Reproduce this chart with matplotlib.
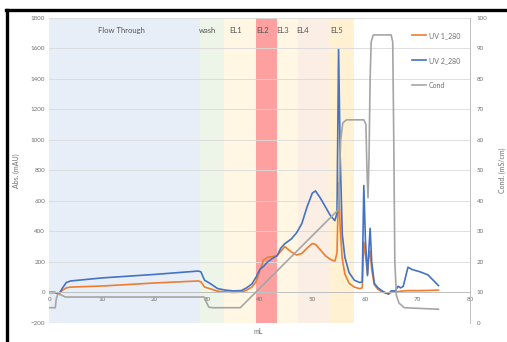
import numpy as np
import matplotlib.pyplot as plt
from matplotlib.lines import Line2D

plt.rcParams['font.family'] = ['Lato', 'DejaVu Sans']

# chromato : absorbance UV (mAU) et conductivite (mS/cm) en fonction du volume (mL)
vol_uv = [0, 1, 1.8, 2.5, 3.2, 4, 10, 20, 28.3, 28.8, 29.5, 30.5, 32, 33.5, 35, 36.5,
          37.5, 38.5, 39.3, 40, 40.7, 41.5, 42.5, 43.3, 44, 44.8, 46, 47, 48, 49, 50,
          50.6, 51.5, 52.5, 53.5, 54.3, 54.7, 55.0, 55.3, 55.7, 56.2, 57, 58, 59, 59.5,
          59.8, 60.1, 60.5, 60.8, 61.0, 61.3, 61.8, 62.5, 63.5, 64.5, 65, 65.8, 66.3,
          66.8, 67.3, 68.2, 69, 70.5, 72, 73, 74]
uv1 = [0, 0, -8, 15, 30, 35, 42, 62, 75, 70, 35, 25, 8, 3, 0, 2,
       15, 35, 70, 140, 210, 230, 235, 240, 270, 300, 265, 245, 255, 290, 320,
       315, 280, 240, 215, 205, 260, 715, 420, 220, 120, 60, 35, 25, 30,
       330, 250, 120, 260, 270, 150, 50, 20, 0, -10, 0, 5, 5,
       8, 10, 12, 12, 12, 13, 14, 15]
uv2 = [0, 0, -10, 30, 65, 75, 95, 118, 140, 135, 80, 60, 25, 15, 10, 12,
       30, 55, 100, 150, 170, 200, 225, 240, 290, 320, 350, 390, 450, 560, 650,
       665, 620, 560, 500, 470, 520, 1590, 900, 380, 230, 130, 80, 65, 70,
       700, 350, 110, 300, 420, 200, 60, 30, 5, -10, 10, 10, 40,
       30, 40, 165, 150, 135, 115, 80, 45]

vol_cond = [0, 1.1, 1.3, 1.6, 2.2, 3, 29.4, 29.8, 30.3, 31, 36.3, 54.9, 55.1, 55.4,
            55.8, 56.5, 59.8, 60.2, 60.4, 60.6, 60.8, 61.0, 61.2, 61.6, 65.0, 65.3,
            65.5, 65.7, 66, 66.5, 67.5, 74]
cond = [5, 5, 8, 9.5, 9.2, 8.5, 8.5, 7, 5.2, 5, 5, 37, 45, 60,
        65.5, 66.5, 66.5, 65, 50, 41, 55, 80, 92, 94.3, 94.3, 92,
        60, 20, 9, 6.5, 5, 4.5]

# fractions collectees
zones = ['Flow Through', 'wash', 'EL1', 'EL2', 'EL3', 'EL4', 'EL5']
zone_debut = [0, 28.6, 33.2, 39.3, 43.2, 47.3, 53.2]
zone_fin = [28.6, 33.2, 39.3, 43.2, 47.3, 53.2, 57.9]
zone_label_x = [13.6, 30.1, 35.4, 40.5, 44.3, 48.2, 54.6]
zone_couleur = ['#e8eef8', '#edf5e8', '#fff7e3', '#ffa0a0', '#fff7e3', '#fbeee4', '#fff1d2']

gris = '#6f6f6f'

fig = plt.figure(figsize=(5.07, 3.42), dpi=100)
ax = fig.add_axes([0.0976, 0.0556, 0.8294, 0.8932])
ax2 = ax.twinx()

for nom, d, f, lx, c in zip(zones, zone_debut, zone_fin, zone_label_x, zone_couleur):
    ax.axvspan(d, f, color=c, lw=0, zorder=0)
    ax.text(lx, 1718, nom, ha='center', va='center', fontsize=5.5, color='#555555')

l1, = ax.plot(vol_uv, uv1, color='#ED7D31', lw=1.2, label='UV 1_280')
l2, = ax.plot(vol_uv, uv2, color='#4472C4', lw=1.2, label='UV 2_280')
l3, = ax2.plot(vol_cond, cond, color='#A5A5A5', lw=1.2, label='Cond')

ax.set_xlim(0, 80)
ax.set_ylim(-200, 1800)
ax.set_yticks(np.arange(-200, 1801, 200))
ax.set_xticks(np.arange(0, 81, 10))
ax2.set_ylim(0, 100)
ax2.set_yticks(np.arange(0, 101, 10))

ax.grid(axis='y', color='#d9d9d9', lw=0.6)
ax.set_axisbelow(True)
for s in ['top', 'left', 'right']:
    ax.spines[s].set_visible(False)
ax.spines['bottom'].set_position(('data', 0))
ax.spines['bottom'].set_color('#bfbfbf')
ax.spines['bottom'].set_linewidth(0.7)
for s in ['top', 'left', 'bottom']:
    ax2.spines[s].set_visible(False)
ax2.spines['right'].set_color('#bfbfbf')
ax2.spines['right'].set_linewidth(0.7)

ax.tick_params(length=0, labelsize=4.5, labelcolor=gris, pad=3)
ax2.tick_params(length=0, labelsize=4.5, labelcolor=gris, pad=5)

ax.set_ylabel('Abs. (mAU)', fontsize=5, color=gris, labelpad=8)
ax2.set_ylabel('Cond. (mS/cm)', fontsize=5, color=gris, labelpad=8)
fig.text(258 / 507, 1 - 331 / 342, 'mL', ha='center', va='center', fontsize=5, color=gris)

ax2.legend([l1, l2, l3], ['UV 1_280', 'UV 2_280', 'Cond'], loc='upper left',
           bbox_to_anchor=(0.812, 0.907), bbox_transform=fig.transFigure,
           frameon=False, fontsize=5, labelcolor=gris, labelspacing=2.6,
           handlelength=2.0, handletextpad=0.5, borderpad=0, borderaxespad=0)

# cadre noir en haut et a gauche
fig.add_artist(Line2D([5.5 / 507, 1], [1 - 9.5 / 342] * 2, transform=fig.transFigure,
                      color='black', lw=2.4))
fig.add_artist(Line2D([6.5 / 507] * 2, [0, 1 - 9.5 / 342], transform=fig.transFigure,
                      color='black', lw=2.4))

fig.savefig('out.png', dpi=100)
